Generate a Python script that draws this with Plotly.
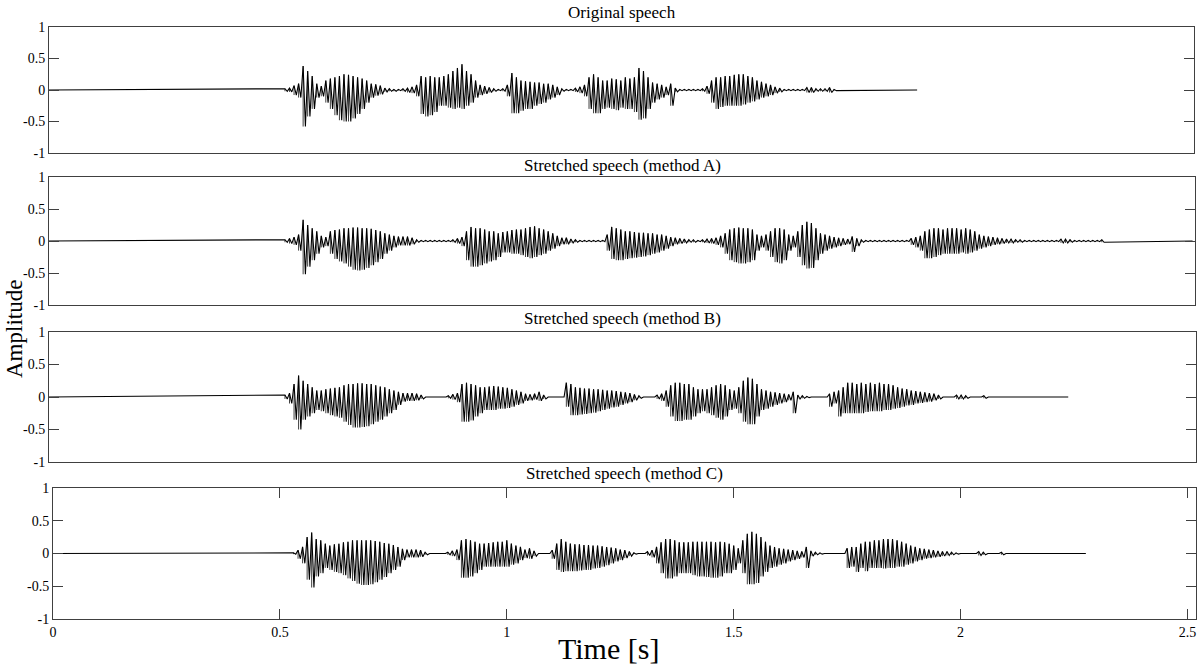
import numpy as np
import plotly.graph_objects as go

# ---------------- data (envelope, 10 ms steps) ----------------
STEP = 0.01  # s between successive (upper, lower) pairs

panel_titles = ["Original speech", "Stretched speech (method A)",
                "Stretched speech (method B)", "Stretched speech (method C)"]
x_tick_vals = [0, 0.5, 1, 1.5, 2, 2.5]
x_tick_text = ["0", "0.5", "1", "1.5", "2", "2.5"]
y_tick_vals = [-1, -0.5, 0, 0.5, 1]
y_tick_text = ["-1", "-0.5", "0", "0.5", "1"]

# start of the listed envelope and end of each signal [s]
orig_start, orig_end = 0.52, 1.913
a_start, a_end = 0.52, 2.52
b_start, b_end = 0.52, 2.246
c_start, c_end = 0.53, 2.276

orig_upper = [
    .02, .03, .07, .10, .38, .30, .22, .10, .06, .15,
    .18, .20, .22, .25, .24, .22, .20, .18, .15, .10,
    .09, .07, .03, .02, .01, .01, .02, .03, .05, .08,
    .22, .20, .22, .20, .20, .22, .25, .30, .35, .41,
    .30, .25, .15, .08, .06, .04, .02, .01, .02, .08,
    .27, .20, .15, .14, .13, .12, .12, .10, .10, .08,
    .05, .02, .01, .01, .03, .05, .08, .20, .25, .20,
    .15, .15, .18, .17, .15, .20, .18, .20, .35, .30,
    .20, .12, .10, .08, .05, .10, .03, .01, .01, .01,
    .01, .01, .02, .06, .15, .20, .20, .22, .22, .24,
    .25, .25, .22, .20, .15, .13, .10, .08, .05, .03,
    .01, .01, .01, .01, .01, .04, .04, .02, .02, .02,
    .04, .01]
orig_lower = [
    -.02, -.03, -.08, -.12, -.58, -.42, -.30, -.12, -.10, -.20,
    -.30, -.40, -.48, -.50, -.50, -.45, -.38, -.30, -.20, -.12,
    -.09, -.07, -.03, -.02, -.02, -.01, -.02, -.04, -.05, -.10,
    -.38, -.42, -.40, -.35, -.25, -.25, -.28, -.30, -.28, -.30,
    -.25, -.20, -.12, -.08, -.06, -.04, -.02, -.01, -.02, -.10,
    -.37, -.37, -.33, -.30, -.30, -.25, -.22, -.20, -.15, -.12,
    -.08, -.02, -.01, -.01, -.03, -.05, -.10, -.30, -.37, -.37,
    -.30, -.28, -.30, -.32, -.28, -.30, -.30, -.35, -.47, -.45,
    -.30, -.20, -.15, -.12, -.08, -.25, -.03, -.01, -.01, -.01,
    -.01, -.01, -.02, -.06, -.20, -.30, -.27, -.25, -.25, -.25,
    -.25, -.23, -.20, -.18, -.15, -.12, -.10, -.08, -.05, -.03,
    -.01, -.01, -.01, -.01, -.01, -.04, -.04, -.02, -.02, -.02,
    -.04, -.01]

a_upper = [
    .02, .04, .06, .10, .33, .25, .20, .15, .08, .06,
    .15, .17, .18, .20, .20, .21, .21, .20, .20, .19,
    .17, .15, .12, .10, .08, .07, .07, .07, .05, .02,
    .01, .01, .01, .01, .01, .01, .01, .02, .04, .06,
    .15, .22, .20, .20, .18, .15, .15, .12, .14, .15,
    .17, .18, .18, .20, .22, .23, .20, .18, .15, .12,
    .08, .05, .05, .03, .02, .01, .01, .01, .01, .01,
    .01, .10, .22, .20, .18, .15, .15, .14, .13, .13,
    .12, .12, .10, .10, .08, .06, .05, .04, .03, .02,
    .02, .01, .02, .03, .04, .05, .08, .12, .18, .20,
    .21, .20, .20, .18, .10, .08, .10, .15, .20, .20,
    .18, .10, .08, .15, .25, .30, .28, .20, .12, .10,
    .08, .06, .05, .04, .03, .07, .04, .02, .01, .01,
    .01, .01, .01, .01, .01, .01, .01, .01, .04, .06,
    .08, .15, .18, .20, .20, .18, .20, .20, .20, .18,
    .20, .18, .15, .10, .08, .07, .06, .05, .04, .03,
    .03, .02, .02, .01, .01, .01, .01, .01, .01, .01,
    .01, .03, .03, .02, .01, .01, .01, .01, .01, .01,
    .02]
a_lower = [
    -.02, -.04, -.06, -.15, -.52, -.40, -.30, -.20, -.10, -.08,
    -.20, -.28, -.32, -.35, -.40, -.45, -.46, -.45, -.42, -.38,
    -.33, -.28, -.20, -.15, -.10, -.07, -.07, -.07, -.05, -.02,
    -.01, -.01, -.01, -.01, -.01, -.01, -.01, -.02, -.04, -.08,
    -.30, -.40, -.40, -.38, -.35, -.32, -.30, -.25, -.18, -.18,
    -.20, -.20, -.22, -.25, -.27, -.25, -.22, -.20, -.15, -.12,
    -.08, -.05, -.05, -.03, -.02, -.01, -.01, -.01, -.01, -.01,
    -.01, -.15, -.28, -.30, -.30, -.28, -.27, -.26, -.25, -.24,
    -.22, -.20, -.18, -.15, -.12, -.08, -.05, -.04, -.03, -.02,
    -.02, -.01, -.02, -.03, -.04, -.06, -.10, -.20, -.30, -.33,
    -.35, -.35, -.33, -.30, -.15, -.10, -.15, -.25, -.33, -.35,
    -.30, -.15, -.10, -.25, -.38, -.43, -.42, -.30, -.20, -.15,
    -.12, -.10, -.08, -.06, -.05, -.17, -.08, -.02, -.01, -.01,
    -.01, -.01, -.01, -.01, -.01, -.01, -.01, -.01, -.06, -.10,
    -.15, -.27, -.27, -.25, -.22, -.20, -.20, -.20, -.20, -.18,
    -.20, -.18, -.15, -.12, -.10, -.08, -.06, -.05, -.04, -.03,
    -.03, -.02, -.02, -.01, -.01, -.01, -.01, -.01, -.01, -.01,
    -.01, -.03, -.03, -.02, -.01, -.01, -.01, -.01, -.01, -.01,
    -.02]

b_upper = [
    .03, .06, .20, .33, .25, .20, .15, .10, .10, .12,
    .13, .14, .15, .18, .20, .20, .21, .21, .20, .20,
    .18, .16, .15, .12, .10, .08, .06, .06, .06, .05,
    .03, 0, 0, 0, 0, 0, .02, .04, .06, .20,
    .22, .20, .18, .15, .15, .16, .17, .16, .15, .14,
    .12, .10, .08, .05, .04, .05, .08, .03, 0, 0,
    0, 0, .22, .20, .15, .14, .13, .13, .12, .12,
    .11, .10, .10, .09, .08, .07, .06, .04, .02, 0,
    0, 0, .03, .05, .10, .18, .22, .22, .20, .20,
    .15, .12, .12, .12, .15, .18, .20, .18, .12, .10,
    .15, .25, .30, .28, .20, .12, .10, .08, .07, .06,
    .05, .04, .08, .03, .02, .01, 0, 0, 0, 0,
    .05, .08, .10, .15, .22, .22, .20, .22, .20, .22,
    .20, .22, .20, .20, .18, .15, .13, .12, .10, .09,
    .08, .07, .06, .05, .03, 0, 0, 0, .03, .03,
    .02, 0, 0, 0, .02, 0]
b_lower = [
    -.03, -.10, -.35, -.50, -.35, -.30, -.25, -.20, -.22, -.25,
    -.28, -.30, -.32, -.38, -.43, -.47, -.47, -.46, -.45, -.42,
    -.38, -.35, -.30, -.25, -.20, -.12, -.07, -.06, -.06, -.05,
    -.03, 0, 0, 0, 0, 0, -.02, -.04, -.08, -.38,
    -.38, -.36, -.30, -.25, -.20, -.20, -.20, -.18, -.18, -.17,
    -.15, -.12, -.10, -.06, -.05, -.04, -.06, -.03, 0, 0,
    0, 0, -.15, -.28, -.28, -.27, -.26, -.25, -.24, -.22,
    -.20, -.18, -.16, -.15, -.12, -.10, -.08, -.05, -.02, 0,
    0, 0, -.03, -.06, -.15, -.30, -.37, -.37, -.35, -.35,
    -.30, -.25, -.22, -.25, -.28, -.32, -.35, -.30, -.20, -.18,
    -.25, -.38, -.42, -.42, -.30, -.20, -.18, -.15, -.12, -.10,
    -.08, -.05, -.25, -.03, -.02, -.01, 0, 0, 0, 0,
    -.15, -.10, -.30, -.25, -.25, -.25, -.25, -.25, -.23, -.22,
    -.22, -.22, -.20, -.20, -.18, -.17, -.15, -.13, -.12, -.10,
    -.09, -.08, -.07, -.05, -.03, 0, 0, 0, -.03, -.03,
    -.02, 0, 0, 0, -.02, 0]

c_upper = [
    .01, .05, .10, .25, .32, .22, .20, .15, .12, .14,
    .15, .17, .18, .20, .20, .20, .20, .20, .19, .18,
    .16, .15, .13, .10, .07, .06, .06, .06, .05, .02,
    0, 0, 0, 0, .02, .04, .06, .20, .22, .20,
    .18, .15, .15, .16, .17, .18, .18, .20, .15, .12,
    .10, .06, .08, .04, 0, 0, 0, .05, .15, .22,
    .18, .15, .14, .14, .13, .13, .12, .12, .11, .10,
    .09, .08, .06, .05, .03, .01, 0, 0, .03, .05,
    .10, .17, .22, .22, .20, .17, .17, .17, .18, .18,
    .18, .18, .18, .17, .18, .17, .15, .12, .08, .20,
    .30, .33, .30, .25, .18, .12, .10, .08, .07, .06,
    .05, .04, .03, .10, .04, .02, .01, 0, 0, 0,
    0, 0, .08, .10, .10, .15, .18, .18, .20, .20,
    .22, .22, .22, .20, .18, .15, .12, .10, .08, .07,
    .06, .05, .04, .03, .03, .02, .01, 0, 0, 0,
    0, .03, .02, 0, 0, 0, .02, 0]
c_lower = [
    -.01, -.08, -.15, -.40, -.52, -.35, -.30, -.22, -.25, -.28,
    -.30, -.33, -.38, -.42, -.46, -.48, -.48, -.47, -.44, -.40,
    -.36, -.30, -.25, -.20, -.10, -.06, -.06, -.06, -.05, -.02,
    0, 0, 0, 0, -.02, -.04, -.10, -.37, -.37, -.35,
    -.30, -.25, -.20, -.20, -.20, -.20, -.20, -.20, -.17, -.15,
    -.10, -.07, -.08, -.04, 0, 0, 0, -.08, -.25, -.28,
    -.27, -.27, -.27, -.26, -.25, -.25, -.23, -.22, -.20, -.18,
    -.15, -.12, -.10, -.07, -.04, -.01, 0, 0, -.03, -.06,
    -.15, -.30, -.38, -.38, -.35, -.30, -.30, -.30, -.33, -.35,
    -.35, -.36, -.37, -.37, -.35, -.30, -.30, -.25, -.15, -.30,
    -.47, -.47, -.45, -.35, -.28, -.22, -.20, -.17, -.15, -.12,
    -.10, -.08, -.06, -.22, -.04, -.02, -.01, 0, 0, 0,
    0, 0, -.22, -.20, -.28, -.22, -.27, -.22, -.22, -.22,
    -.23, -.22, -.22, -.20, -.20, -.17, -.15, -.12, -.10, -.08,
    -.07, -.06, -.05, -.04, -.03, -.02, -.01, 0, 0, 0,
    0, -.03, -.02, 0, 0, 0, -.02, 0]

# ---------------- layout geometry (pixels of the 1200x666 page) ----------------
W, H = 1200, 666
FONT = "Liberation Serif"
AXIS_COLOR = "#404040"

panels = [
    dict(up=orig_upper, lo=orig_lower, t0=orig_start, tend=orig_end,
         px=(49, 1194), py=(27, 153), title_y=12, xticks=False),
    dict(up=a_upper, lo=a_lower, t0=a_start, tend=a_end,
         px=(49, 1195), py=(177, 305), title_y=165, xticks=False),
    dict(up=b_upper, lo=b_lower, t0=b_start, tend=b_end,
         px=(49, 1196), py=(332, 462), title_y=318, xticks=False),
    dict(up=c_upper, lo=c_lower, t0=c_start, tend=c_end,
         px=(53, 1196), py=(488, 619), title_y=473, xticks=True),
]
PX_PER_S = 453.8

fig = go.Figure()
layout = dict(width=W, height=H, margin=dict(l=0, r=0, t=0, b=0, autoexpand=False),
              paper_bgcolor="white", plot_bgcolor="white", showlegend=False,
              annotations=[])

for i, p in enumerate(panels):
    k = "" if i == 0 else str(i + 1)
    t = p["t0"] + np.arange(len(p["up"])) * STEP
    # waveform: alternate upper / lower excursions
    xs, ys = [0.0], [0.0]
    for tt, u, l in zip(t, p["up"], p["lo"]):
        xs += [tt, tt + STEP / 2]
        ys += [u, l]
    xs.append(p["tend"])
    ys.append(0.0)
    fig.add_trace(go.Scatter(x=xs, y=ys, mode="lines",
                             line=dict(color="black", width=1.1),
                             xaxis="x" + k, yaxis="y" + k, hoverinfo="skip"))
    # min/max strokes of each 10 ms frame
    bx, by = [], []
    for tt, u, l in zip(t, p["up"], p["lo"]):
        bx += [tt, tt, None]
        by += [l, u, None]
    fig.add_trace(go.Scatter(x=bx, y=by, mode="lines",
                             line=dict(color="rgba(0,0,0,0.75)", width=1),
                             xaxis="x" + k, yaxis="y" + k, hoverinfo="skip"))

    x0, x1 = p["px"]
    y0, y1 = p["py"]
    xmax = (x1 - x0) / PX_PER_S
    xa = dict(domain=[x0 / W, x1 / W], range=[0, xmax], anchor="y" + k,
              showline=True, linecolor=AXIS_COLOR, linewidth=1, mirror=True,
              showgrid=False, zeroline=False, automargin=False)
    if p["xticks"]:
        xa.update(ticks="inside", ticklen=10, tickcolor=AXIS_COLOR, mirror="ticks",
                  tickvals=x_tick_vals, ticktext=x_tick_text,
                  tickfont=dict(family=FONT, size=14, color="black"))
    else:
        xa.update(ticks="", showticklabels=False)
    ya = dict(domain=[1 - y1 / H, 1 - y0 / H], range=[-1, 1], anchor="x" + k,
              showline=True, linecolor=AXIS_COLOR, linewidth=1, mirror="ticks",
              ticks="inside", ticklen=10, tickcolor=AXIS_COLOR,
              tickvals=y_tick_vals, ticktext=y_tick_text,
              tickfont=dict(family=FONT, size=14, color="black"),
              showgrid=False, zeroline=False, automargin=False)
    layout["xaxis" + k] = xa
    layout["yaxis" + k] = ya
    layout["annotations"].append(dict(
        text=panel_titles[i], x=(x0 + x1) / 2 / W, y=1 - p["title_y"] / H,
        xref="paper", yref="paper", xanchor="center", yanchor="middle",
        showarrow=False, font=dict(family=FONT, size=17, color="black")))

layout["annotations"].append(dict(
    text="Amplitude", x=14 / W, y=1 - 329 / H, xref="paper", yref="paper",
    xanchor="center", yanchor="middle", textangle=-90, showarrow=False,
    font=dict(family=FONT, size=23, color="black")))
layout["annotations"].append(dict(
    text="Time [s]", x=609 / W, y=1 - 648 / H, xref="paper", yref="paper",
    xanchor="center", yanchor="middle", showarrow=False,
    font=dict(family=FONT, size=30, color="black")))

fig.update_layout(**layout)
fig.write_html("out.html", config={"displayModeBar": False},
               post_script="document.body.style.margin='0';"
                           "document.body.style.overflow='hidden';")
